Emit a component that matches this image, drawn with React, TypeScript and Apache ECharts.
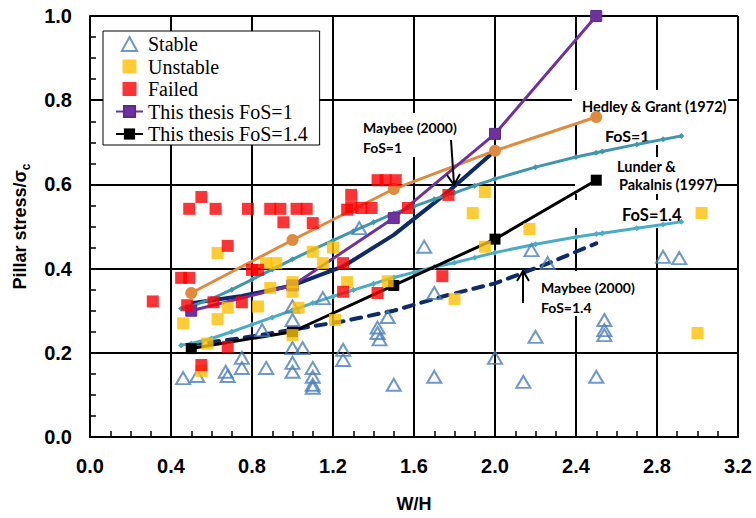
import React, { useEffect, useRef } from "react";
import * as echarts from "echarts";

// ---------------- data ----------------
const stable: [number, number][] = [
  [0.46, 0.14], [0.53, 0.145], [0.67, 0.155], [0.68, 0.145], [0.75, 0.188], [0.75, 0.164],
  [0.85, 0.254], [0.87, 0.164], [1.0, 0.31], [1.0, 0.278], [1.0, 0.211], [1.05, 0.211],
  [1.0, 0.176], [1.0, 0.155], [1.1, 0.164], [1.1, 0.143], [1.1, 0.124], [1.1, 0.117],
  [1.15, 0.33], [1.25, 0.207], [1.25, 0.183], [1.33, 0.496], [1.42, 0.26], [1.42, 0.247],
  [1.43, 0.232], [1.47, 0.285], [1.5, 0.124], [1.65, 0.452], [1.7, 0.342], [1.7, 0.143],
  [2.0, 0.188], [2.14, 0.131], [2.18, 0.444], [2.2, 0.238], [2.26, 0.413], [2.5, 0.143],
  [2.54, 0.278], [2.54, 0.254], [2.54, 0.242], [2.83, 0.428], [2.91, 0.425],
];
const unstable: [number, number][] = [
  [0.46, 0.27], [0.55, 0.157], [0.58, 0.222], [0.63, 0.28], [0.63, 0.437], [0.68, 0.307],
  [0.83, 0.31], [0.87, 0.413], [0.92, 0.413], [0.89, 0.354], [1.0, 0.368], [1.0, 0.345],
  [1.0, 0.242], [1.03, 0.307], [1.1, 0.44], [1.15, 0.413], [1.2, 0.45], [1.21, 0.278],
  [1.27, 0.368], [1.47, 0.37], [1.8, 0.328], [1.89, 0.532], [1.95, 0.582], [1.95, 0.452],
  [2.17, 0.494], [3.0, 0.247], [3.02, 0.532],
];
const failed: [number, number][] = [
  [0.31, 0.322], [0.45, 0.378], [0.49, 0.378], [0.48, 0.313], [0.49, 0.542], [0.55, 0.57],
  [0.55, 0.171], [0.61, 0.32], [0.62, 0.542], [0.68, 0.454], [0.68, 0.214], [0.75, 0.32],
  [0.78, 0.542], [0.8, 0.397], [0.83, 0.397], [0.89, 0.542], [0.94, 0.542], [0.955, 0.51],
  [1.02, 0.542], [1.07, 0.542], [1.1, 0.508], [1.25, 0.413], [1.25, 0.345], [1.27, 0.54],
  [1.29, 0.575], [1.29, 0.546], [1.34, 0.544], [1.39, 0.544], [1.42, 0.61], [1.46, 0.61],
  [1.51, 0.61], [1.42, 0.342], [1.57, 0.544], [1.74, 0.382], [1.77, 0.575],
];

const thesisX = [0.5, 1.0, 1.5, 2.0, 2.5];
const thesisFoS1 = [0.3, 0.36, 0.52, 0.72, 1.0];
const thesisFoS14 = [0.21, 0.25, 0.36, 0.47, 0.61];

const hedleyX = [0.5, 1.0, 1.5, 2.0, 2.5];
const hedleyY = [0.342, 0.468, 0.589, 0.68, 0.76];

const lunderX = [0.45, 0.5, 0.6, 0.7, 0.8, 0.9, 1.0, 1.1, 1.2, 1.3, 1.4, 1.5, 1.6, 1.7, 1.8, 1.9, 2.0, 2.2, 2.4, 2.5, 2.53, 2.7, 2.83, 2.92];
const lunderFoS1 = [0.305, 0.311, 0.328, 0.35, 0.374, 0.398, 0.422, 0.445, 0.467, 0.489, 0.51, 0.531, 0.548, 0.565, 0.58, 0.597, 0.613, 0.641, 0.665, 0.675, 0.678, 0.695, 0.707, 0.715];
const lunderFoS14 = [0.218, 0.222, 0.234, 0.25, 0.267, 0.284, 0.301, 0.318, 0.334, 0.349, 0.364, 0.379, 0.391, 0.404, 0.414, 0.426, 0.438, 0.458, 0.475, 0.482, 0.484, 0.496, 0.505, 0.511];

const maybee1X = [0.5, 0.75, 1.0, 1.25, 1.5, 1.75, 2.0];
const maybee1Y = [0.318, 0.335, 0.36, 0.405, 0.48, 0.575, 0.68];
const maybee14X = [0.5, 0.75, 1.0, 1.25, 1.5, 1.75, 2.0, 2.25, 2.5];
const maybee14Y = [0.22, 0.235, 0.255, 0.275, 0.3, 0.335, 0.365, 0.41, 0.46];

const legendNames = ["Stable", "Unstable", "Failed", "This thesis FoS=1", "This thesis FoS=1.4"];

const tickFmt = (v: number) => v.toFixed(1);

const zip = (xs: number[], ys: number[]) => xs.map((x, i) => [x, ys[i]]);

const LABEL_FONT = "Lato";
const AXIS_FONT = "Liberation Sans";

export default function App() {
  const ref = useRef<HTMLDivElement>(null);
  useEffect(() => {
    const chart = echarts.init(ref.current!, null, { renderer: "svg" });
    const axisCommon = {
      axisLine: { show: true, lineStyle: { color: "#000", width: 2 } },
      axisTick: { show: true, inside: true, length: 6, lineStyle: { color: "#000", width: 1.5 } },
      minorTick: { show: true, splitNumber: 4, length: 6, lineStyle: { color: "#000", width: 1.5 } },
      splitLine: { show: true, lineStyle: { color: "#000", width: 2 } },
      axisLabel: {
        formatter: tickFmt,
        fontSize: 20,
        fontWeight: "bold",
        color: "#000",
        fontFamily: AXIS_FONT,
      },
    };
    const txt = (text: string, x: number, y: number, size: number) => ({
      type: "text",
      x,
      y,
      z: 1.5,
      style: {
        text,
        fill: "#000",
        font: `bold ${size}px ${LABEL_FONT}`,
        verticalAlign: "middle",
        align: "left",
      },
    });
    const bg = (x: number, y: number, w: number, h: number) => ({
      type: "rect",
      z: 1,
      shape: { x, y, width: w, height: h },
      style: { fill: "#fff" },
    });
    const square = "path://M0 0H12V12H0Z";
    const option: any = {
      animation: false,
      backgroundColor: "#fff",
      grid: { left: 90, right: 18, top: 16, bottom: 81, containLabel: false },
      xAxis: {
        type: "value",
        min: 0,
        max: 3.2,
        interval: 0.4,
        ...axisCommon,
        axisLabel: { ...axisCommon.axisLabel, margin: 19 },
        name: "W/H",
        nameLocation: "middle",
        nameGap: 58,
        nameTextStyle: { fontSize: 18, fontWeight: "bold", color: "#000", fontFamily: AXIS_FONT },
      },
      yAxis: {
        type: "value",
        min: 0,
        max: 1.0,
        interval: 0.2,
        ...axisCommon,
        axisLabel: { ...axisCommon.axisLabel, margin: 18 },
        name: "{a|Pillar stress/σ}{b|c}",
        nameLocation: "middle",
        nameGap: 58,
        nameTextStyle: {
          color: "#000",
          rich: {
            a: { fontSize: 18, fontWeight: "bold", fontFamily: AXIS_FONT, color: "#000", lineHeight: 24, verticalAlign: "middle" },
            b: { fontSize: 12, fontWeight: "bold", fontFamily: AXIS_FONT, color: "#000", lineHeight: 12, verticalAlign: "bottom" },
          },
        },
      },
      legend: {
        orient: "vertical",
        left: 103,
        top: 31,
        itemWidth: 27,
        itemHeight: 14,
        itemGap: 2.5,
        padding: [3, 12, 1, 12],
        borderColor: "#000",
        borderWidth: 1,
        backgroundColor: "#fff",
        textStyle: { fontFamily: "Liberation Serif", fontSize: 20, color: "#000", lineHeight: 20 },
        data: [
          { name: legendNames[0], icon: "path://M6 0L12 11H0Z" },
          { name: legendNames[1], icon: square },
          { name: legendNames[2], icon: square },
          legendNames[3],
          legendNames[4],
        ],
      },
      series: [
        {
          name: "Maybee FoS=1.4",
          type: "line",
          data: zip(maybee14X, maybee14Y),
          showSymbol: false,
          symbol: "none",
          lineStyle: { color: "#0D2B6B", width: 4, type: [10, 8], cap: "round" },
          z: 2,
        },
        {
          name: "Maybee FoS=1",
          type: "line",
          data: zip(maybee1X, maybee1Y),
          symbol: "none",
          lineStyle: { color: "#0D2B6B", width: 4 },
          z: 2,
        },
        {
          name: "Lunder FoS=1.4",
          type: "line",
          data: zip(lunderX, lunderFoS14),
          symbol: "diamond",
          symbolSize: 6,
          itemStyle: { color: "#4BACC6" },
          lineStyle: { color: "#4BACC6", width: 3 },
          z: 2,
        },
        {
          name: "Lunder FoS=1",
          type: "line",
          data: zip(lunderX, lunderFoS1),
          symbol: "diamond",
          symbolSize: 6,
          itemStyle: { color: "#3F97AE" },
          lineStyle: { color: "#3F97AE", width: 3 },
          z: 2,
        },
        {
          name: "Hedley & Grant",
          type: "line",
          data: zip(hedleyX, hedleyY),
          symbol: "circle",
          symbolSize: 12,
          itemStyle: { color: "#DF8A3D" },
          lineStyle: { color: "#DF8A3D", width: 3 },
          z: 2,
        },
        {
          name: legendNames[3],
          type: "line",
          data: zip(thesisX, thesisFoS1),
          symbol: "rect",
          symbolSize: 11,
          itemStyle: { color: "#7030A0", borderColor: "#5E2A8A", borderWidth: 1 },
          lineStyle: { color: "#7030A0", width: 3 },
          z: 3,
        },
        {
          name: legendNames[4],
          type: "line",
          data: zip(thesisX, thesisFoS14),
          symbol: "rect",
          symbolSize: 11,
          itemStyle: { color: "#000" },
          lineStyle: { color: "#000", width: 3 },
          z: 3,
        },
        {
          name: legendNames[0],
          type: "scatter",
          data: stable,
          symbol: "triangle",
          symbolSize: [14, 12],
          itemStyle: { color: "rgba(255,255,255,0)", borderColor: "#4A7EBB", borderWidth: 2 },
          z: 4,
        },
        {
          name: legendNames[1],
          type: "scatter",
          data: unstable,
          symbol: "rect",
          symbolSize: 12,
          itemStyle: { color: "#FFC000" },
          z: 4,
        },
        {
          name: legendNames[2],
          type: "scatter",
          data: failed,
          symbol: "rect",
          symbolSize: 12,
          itemStyle: { color: "#FF0000" },
          z: 4,
        },
      ],
      graphic: {
        elements: [
          bg(358, 113, 110, 44),
          bg(572, 90, 156, 33),
          bg(598, 123, 64, 22),
          bg(575, 157, 141, 37),
          bg(575, 200, 115, 28),
          bg(535, 271, 110, 45),
          txt("Maybee (2000)", 363, 127, 14),
          txt("FoS=1", 363, 147, 14),
          txt("Hedley & Grant (1972)", 582, 106, 14.5),
          txt("FoS=1", 605, 135, 16),
          txt("Lunder &", 617, 166, 14.5),
          txt("Pakalnis (1997)", 619, 184, 14.5),
          txt("FoS=1.4", 622, 215, 16.5),
          txt("Maybee (2000)", 541, 287, 14),
          txt("FoS=1.4", 541, 307, 14),
          {
            type: "line",
            z: 6,
            shape: { x1: 451, y1: 140, x2: 454, y2: 184 },
            style: { stroke: "#000", lineWidth: 2 },
          },
          {
            type: "polyline",
            z: 6,
            shape: { points: [[447, 175], [454, 185], [460, 174]] },
            style: { stroke: "#000", lineWidth: 2, fill: null },
          },
          {
            type: "line",
            z: 6,
            shape: { x1: 523, y1: 303, x2: 523, y2: 272 },
            style: { stroke: "#000", lineWidth: 2 },
          },
          {
            type: "polyline",
            z: 6,
            shape: { points: [[517, 281], [523, 271], [529, 281]] },
            style: { stroke: "#000", lineWidth: 2, fill: null },
          },
        ],
      },
    };
    chart.setOption(option);
    return () => chart.dispose();
  }, []);
  return (
    <div
      ref={ref}
      style={{ position: "fixed", left: 0, top: 0, width: 756, height: 518 }}
    />
  );
}
